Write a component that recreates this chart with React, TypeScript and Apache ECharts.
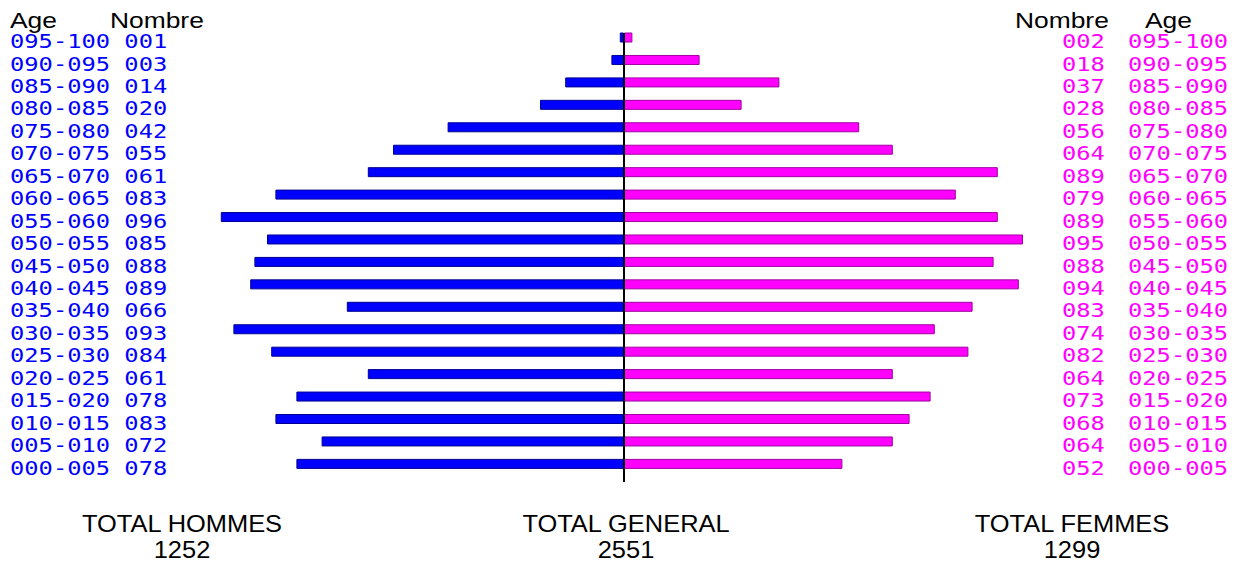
import React, { useEffect, useRef } from 'react';
import * as echarts from 'echarts';

// Age groups, top to bottom
const ages = [
  '095-100', '090-095', '085-090', '080-085', '075-080', '070-075', '065-070',
  '060-065', '055-060', '050-055', '045-050', '040-045', '035-040', '030-035',
  '025-030', '020-025', '015-020', '010-015', '005-010', '000-005',
];
const hommes = [1, 3, 14, 20, 42, 55, 61, 83, 96, 85, 88, 89, 66, 93, 84, 61, 78, 83, 72, 78];
const femmes = [2, 18, 37, 28, 56, 64, 89, 79, 89, 95, 88, 94, 83, 74, 82, 64, 73, 68, 64, 52];
const headerAge = 'Age';
const headerNombre = 'Nombre';
const totalLabels = ['TOTAL HOMMES', 'TOTAL GENERAL', 'TOTAL FEMMES'];

const pad3 = (v: number) => String(v).padStart(3, '0');

export default function App() {
  const ref = useRef<HTMLDivElement>(null);
  useEffect(() => {
    if (!ref.current) return;
    const chart = echarts.init(ref.current, null, { renderer: 'svg' });
    chart.setOption({
      animation: false,
      backgroundColor: '#ffffff',
      grid: { left: 204, width: 840, top: 26.3, height: 448.8 },
      xAxis: { type: 'value', min: -100, max: 100, show: false },
      yAxis: {
        type: 'category',
        data: ages,
        inverse: true,
        show: false,
      },
      series: [
        {
          name: 'Hommes',
          type: 'bar',
          data: hommes.map((v) => -v),
          barWidth: 10,
          barGap: '-100%',
          itemStyle: { color: '#0000ff', borderColor: '#000090', borderWidth: 1 },
        },
        {
          name: 'Femmes',
          type: 'bar',
          data: femmes,
          barWidth: 10,
          barGap: '-100%',
          itemStyle: { color: '#ff00ff', borderColor: '#a000a0', borderWidth: 1 },
        },
      ],
    });

    const x0 = chart.convertToPixel({ xAxisIndex: 0 }, 0) as number;
    const monoFont = { fontSize: 19, fontFamily: '"DejaVu Sans Mono", monospace' };
    const graphics: any[] = [];
    const hommesTotal = hommes.reduce((a, b) => a + b, 0);
    const femmesTotal = femmes.reduce((a, b) => a + b, 0);

    ages.forEach((age, i) => {
      const y = (chart.convertToPixel({ yAxisIndex: 0 }, age) as number) + 4;
      graphics.push({
        type: 'text', x: 10, y, scaleX: 1.25,
        style: { text: `${age} ${pad3(hommes[i])}`, fill: '#0000ff', ...monoFont, align: 'left', verticalAlign: 'middle' },
      });
      graphics.push({
        type: 'text', x: 1062, y, scaleX: 1.25,
        style: { text: pad3(femmes[i]), fill: '#ff00ff', ...monoFont, align: 'left', verticalAlign: 'middle' },
      });
      graphics.push({
        type: 'text', x: 1128, y, scaleX: 1.25,
        style: { text: age, fill: '#ff00ff', ...monoFont, align: 'left', verticalAlign: 'middle' },
      });
    });

    const headFont = { fontSize: 22, fontFamily: '"Liberation Sans", Arial, sans-serif', fill: '#000000' };
    [
      [headerAge, 10], [headerNombre, 110], [headerNombre, 1015], [headerAge, 1145],
    ].forEach(([t, x]) => {
      graphics.push({
        type: 'text', x, y: 20, scaleX: 1.2,
        style: { text: t, ...headFont, align: 'left', verticalAlign: 'middle' },
      });
    });

    const totals = [hommesTotal, hommesTotal + femmesTotal, femmesTotal];
    const centers = [182, 626, 1072];
    totalLabels.forEach((t, i) => {
      const bigFont = { fontSize: 24, fontFamily: '"Liberation Sans", Arial, sans-serif', fill: '#000000' };
      graphics.push({
        type: 'text', x: centers[i], y: 524, scaleX: 1.06,
        style: { text: t, ...bigFont, align: 'center', verticalAlign: 'middle' },
      });
      graphics.push({
        type: 'text', x: centers[i], y: 550, scaleX: 1.06,
        style: { text: String(totals[i]), ...bigFont, align: 'center', verticalAlign: 'middle' },
      });
    });

    graphics.push({
      type: 'line', z: 100,
      shape: { x1: x0, y1: 33, x2: x0, y2: 482 },
      style: { stroke: '#000000', lineWidth: 2 },
    });

    chart.setOption({ graphic: graphics });
    return () => chart.dispose();
  }, []);
  return <div ref={ref} style={{ width: 1239, height: 564, position: 'absolute', left: 0, top: 0 }} />;
}
